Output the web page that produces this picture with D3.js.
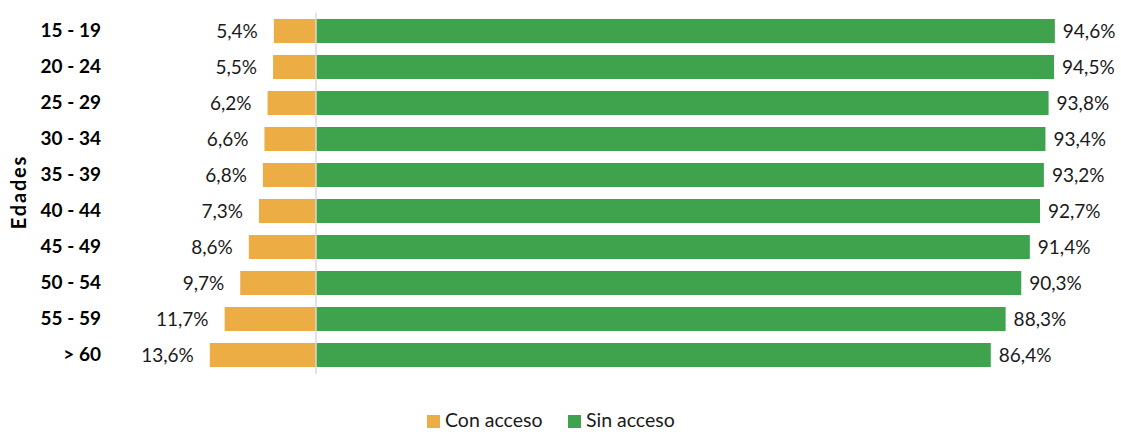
<!DOCTYPE html>
<html>
<head>
<meta charset="utf-8">
<script src="https://cdn.jsdelivr.net/npm/d3@7"></script>
<style>
  html, body { margin: 0; padding: 0; background: #ffffff; }
  svg { display: block; font-family: Lato, "Open Sans", sans-serif; }
</style>
</head>
<body>
<svg id="chart" width="1121" height="432"></svg>
<script>
// Age groups and the share of each group with / without access (%)
const ageGroups = ["15 - 19", "20 - 24", "25 - 29", "30 - 34", "35 - 39", "40 - 44", "45 - 49", "50 - 54", "55 - 59", "> 60"];
const conAcceso = [5.4, 5.5, 6.2, 6.6, 6.8, 7.3, 8.6, 9.7, 11.7, 13.6];
const sinAcceso = [94.6, 94.5, 93.8, 93.4, 93.2, 92.7, 91.4, 90.3, 88.3, 86.4];
const seriesNames = ["Con acceso", "Sin acceso"];

const colors = { con: "#EDAD45", sin: "#3FA34D" };
const svg = d3.select("#chart");

const zeroX = 316;
const pxPerPct = 7.81;
const x = d3.scaleLinear().domain([-20, 100]).range([zeroX - 20 * pxPerPct, zeroX + 100 * pxPerPct]);
const y = d3.scaleBand().domain(ageGroups).range([13, 373]).paddingInner(0.333).paddingOuter(0.166);

const fmt = v => d3.format(".1f")(v).replace(".", ",") + "%";

const rows = ageGroups.map((g, i) => ({ g, con: conAcceso[i], sin: sinAcceso[i] }));

// Con acceso bars extend to the left of the zero line
svg.append("g").selectAll("rect").data(rows).join("rect")
  .attr("x", d => x(-d.con)).attr("y", d => y(d.g))
  .attr("width", d => x(0) - x(-d.con)).attr("height", y.bandwidth())
  .attr("fill", colors.con);

// Sin acceso bars extend to the right
svg.append("g").selectAll("rect").data(rows).join("rect")
  .attr("x", x(0)).attr("y", d => y(d.g))
  .attr("width", d => x(d.sin) - x(0)).attr("height", y.bandwidth())
  .attr("fill", colors.sin);

// Zero line
svg.append("line")
  .attr("x1", x(0)).attr("x2", x(0)).attr("y1", 13).attr("y2", 374)
  .attr("stroke", "#d9d9d9").attr("stroke-width", 1.5);

// Value labels
svg.append("g").selectAll("text").data(rows).join("text")
  .attr("x", d => x(-d.con) - 16).attr("y", d => y(d.g) + y.bandwidth() / 2)
  .attr("dy", "0.35em").attr("text-anchor", "end")
  .attr("font-size", 19).attr("fill", "#1a1a1a")
  .text(d => fmt(d.con));

svg.append("g").selectAll("text").data(rows).join("text")
  .attr("x", d => x(d.sin) + 8).attr("y", d => y(d.g) + y.bandwidth() / 2)
  .attr("dy", "0.35em").attr("text-anchor", "start")
  .attr("font-size", 19).attr("fill", "#1a1a1a")
  .text(d => fmt(d.sin));

// Category axis
const yAxis = svg.append("g").attr("transform", "translate(101,0)")
  .call(d3.axisLeft(y).tickSize(0).tickPadding(0));
yAxis.select(".domain").remove();
yAxis.selectAll("text")
  .attr("font-family", "Lato, sans-serif").attr("font-size", 19)
  .attr("font-weight", "bold").attr("fill", "#000");

// Axis title
svg.append("text")
  .attr("transform", "translate(26,192) rotate(-90)")
  .attr("text-anchor", "middle").attr("font-size", 20).attr("font-weight", "bold")
  .attr("letter-spacing", 1.8)
  .attr("fill", "#000").text("Edades");

// Legend
const legend = svg.append("g");
const legendItems = [
  { name: seriesNames[0], color: colors.con, x: 427 },
  { name: seriesNames[1], color: colors.sin, x: 568 }
];
legendItems.forEach(it => {
  legend.append("rect").attr("x", it.x).attr("y", 415).attr("width", 13).attr("height", 13).attr("fill", it.color);
  legend.append("text").attr("x", it.x + 18).attr("y", 427)
    .attr("font-size", 19.5).attr("fill", "#1a1a1a").text(it.name);
});
</script>
</body>
</html>
